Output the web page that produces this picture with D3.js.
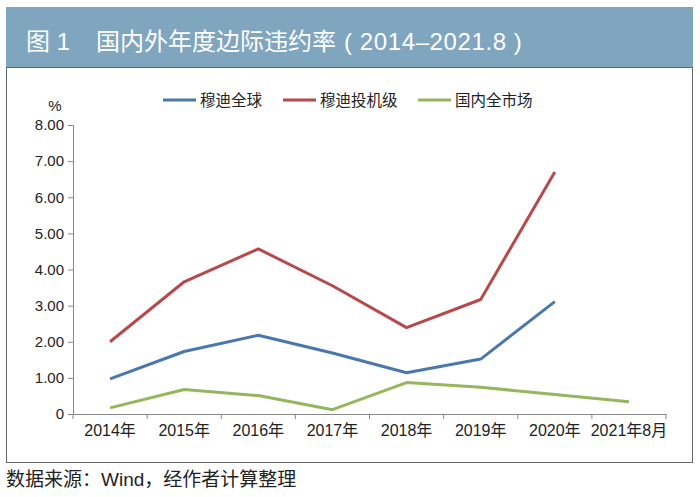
<!DOCTYPE html>
<html>
<head>
<meta charset="utf-8">
<script src="https://cdn.jsdelivr.net/npm/d3@7/dist/d3.min.js"></script>
<style>
  body { margin: 0; background: #fff; }
  text { font-family: "Liberation Sans", "Noto Sans CJK SC", sans-serif; }
</style>
</head>
<body>
<svg id="chart" width="700" height="497"></svg>
<script>
// categories and series
var categories = ['2014年', '2015年', '2016年', '2017年', '2018年', '2019年', '2020年', '2021年8月'];
var moodyGlobal = [0.97, 1.73, 2.18, 1.69, 1.14, 1.52, 3.11, null];
var moodySpec = [2.00, 3.66, 4.57, 3.55, 2.39, 3.17, 6.70, null];
var domestic = [0.17, 0.68, 0.51, 0.12, 0.87, 0.74, 0.54, 0.34];
var yTicks = [0, 1, 2, 3, 4, 5, 6, 7, 8];

var series = [
  { name: '穆迪全球', values: moodyGlobal, color: '#4a77ad' },
  { name: '穆迪投机级', values: moodySpec, color: '#b8494b' },
  { name: '国内全市场', values: domestic, color: '#96b65e' }
];

var svg = d3.select('#chart');

// title bar
svg.append('rect').attr('x', 6).attr('y', 7).attr('width', 687).attr('height', 60)
  .attr('fill', '#80a5bf');
var title = svg.append('text').attr('y', 50).attr('fill', '#fff').attr('font-size', 24);
title.append('tspan').attr('x', 26).text('图 1');
title.append('tspan').attr('x', 96).text('国内外年度边际违约率');
title.append('tspan').attr('x', 344).attr('letter-spacing', 0.6).text('( 2014–2021.8 )');

// frame
svg.append('rect').attr('x', 6.5).attr('y', 67.5).attr('width', 686).attr('height', 395)
  .attr('fill', 'none').attr('stroke', '#666').attr('stroke-width', 1);

var margin = { left: 73, top: 125, right: 666, bottom: 414 };

var x = d3.scaleBand().domain(categories).range([margin.left, margin.right]);
var y = d3.scaleLinear().domain([0, 8]).range([margin.bottom, margin.top]);

// y axis
var yAxis = svg.append('g').attr('transform', 'translate(' + margin.left + ',0)')
  .call(d3.axisLeft(y).tickValues(yTicks).tickSize(5).tickPadding(4)
    .tickFormat(function(d) { return d === 0 ? '0' : d3.format('.2f')(d); }));
yAxis.selectAll('path, line').attr('stroke', '#888');
yAxis.selectAll('text').attr('font-size', 15).attr('fill', '#222');

svg.append('text').attr('x', 55).attr('y', 111).attr('font-size', 15).attr('fill', '#222')
  .attr('text-anchor', 'middle').text('%');

// x axis with ticks at band edges
var xAxis = svg.append('g').attr('transform', 'translate(0,' + margin.bottom + ')')
  .call(d3.axisBottom(x).tickSize(0).tickPadding(11));
xAxis.select('.domain').attr('stroke', '#888');
xAxis.selectAll('text').attr('font-size', 16).attr('fill', '#222');
var edges = categories.map(function(c) { return x(c); }).concat([margin.right]);
xAxis.selectAll('.edge').data(edges).enter().append('line')
  .attr('x1', function(d) { return d; }).attr('x2', function(d) { return d; })
  .attr('y1', 0).attr('y2', 5).attr('stroke', '#888');

// lines
var line = d3.line()
  .defined(function(d) { return d != null; })
  .x(function(d, i) { return x(categories[i]) + x.bandwidth() / 2; })
  .y(function(d) { return y(d); });

series.forEach(function(s) {
  svg.append('path').datum(s.values)
    .attr('fill', 'none').attr('stroke', s.color).attr('stroke-width', 3)
    .attr('stroke-linejoin', 'round')
    .attr('d', line);
});

// legend
var legendX = [163, 283, 418];
series.forEach(function(s, i) {
  var g = svg.append('g').attr('transform', 'translate(' + legendX[i] + ',100)');
  g.append('line').attr('x1', 0).attr('x2', 33).attr('stroke', s.color).attr('stroke-width', 3);
  g.append('text').attr('x', 37).attr('y', 5.5).attr('font-size', 15.5).attr('fill', '#222').text(s.name);
});

// source note
svg.append('text').attr('x', 6).attr('y', 486).attr('font-size', 19).attr('fill', '#222')
  .text('数据来源：Wind，经作者计算整理');
</script>
</body>
</html>
